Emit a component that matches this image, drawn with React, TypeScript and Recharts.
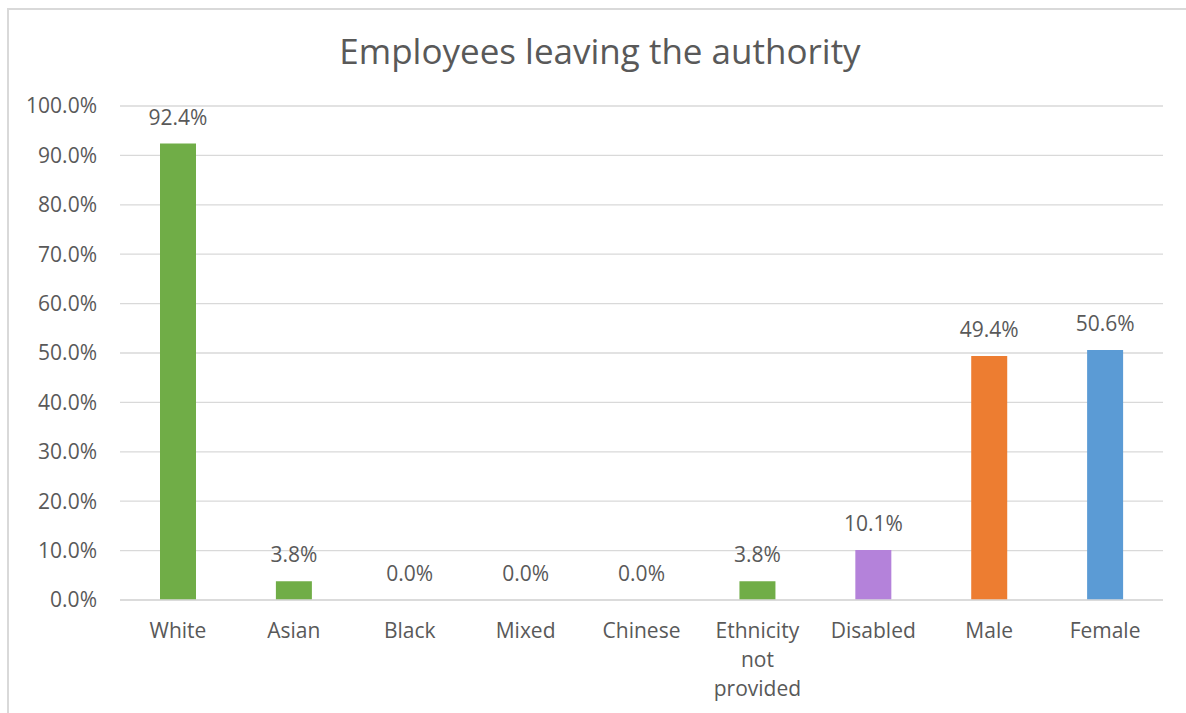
import { BarChart, Bar, XAxis, YAxis, CartesianGrid, LabelList, Cell } from 'recharts';

const categories = ['White', 'Asian', 'Black', 'Mixed', 'Chinese', 'Ethnicity not provided', 'Disabled', 'Male', 'Female'];
const leavingPct = [92.4, 3.8, 0.0, 0.0, 0.0, 3.8, 10.1, 49.4, 50.6];
const yTicks = [0, 10, 20, 30, 40, 50, 60, 70, 80, 90, 100];

const barColors = ['#70AD47', '#70AD47', '#70AD47', '#70AD47', '#70AD47', '#70AD47', '#B482DA', '#ED7D31', '#5B9BD5'];

const FONT = '"Open Sans", sans-serif';
const TEXT = '#595959';

const chartData = categories.map((name, i) => ({ name, value: leavingPct[i] }));

// wrap multi-word category names one word per line, like the original
function CategoryTick(props: any) {
    const { x, y, payload } = props;
    const words = String(payload.value).split(' ');
    return (
        <text x={x} y={y} textAnchor="middle" fill={TEXT} fontSize={21} fontFamily={FONT}>
            {words.map((w, i) => (
                <tspan key={i} x={x} dy={i === 0 ? '0.73em' : 29}>
                    {w}
                </tspan>
            ))}
        </text>
    );
}

// value label above each bar, zero bars included
function ValueLabel(props: any) {
    const { x, y, width, value } = props;
    return (
        <text x={Number(x) + Number(width) / 2} y={Number(y) - 19} textAnchor="middle" fill={TEXT} fontSize={21} fontFamily={FONT}>
            {`${Number(value).toFixed(1)}%`}
        </text>
    );
}

export default function App() {
    return (
        <div style={{ position: 'absolute', left: 0, top: 0, width: 1186, height: 713, overflow: 'hidden', background: '#fff' }}>
            <div
                style={{
                    position: 'absolute',
                    left: 7,
                    top: 8,
                    width: 1200,
                    height: 720,
                    borderLeft: '2px solid #D9D9D9',
                    borderTop: '2px solid #D9D9D9',
                }}
            />
            <div
                style={{
                    position: 'absolute',
                    left: 0,
                    top: 27,
                    width: 1200,
                    textAlign: 'center',
                    fontFamily: FONT,
                    fontSize: 35,
                    color: TEXT,
                }}
            >
                Employees leaving the authority
            </div>
            <div style={{ position: 'absolute', left: 0, top: 0 }}>
                <BarChart width={1186} height={713} data={chartData} margin={{ top: 106, right: 23, left: 10, bottom: 13 }}>
                    <CartesianGrid vertical={false} stroke="#D9D9D9" strokeWidth={1.3} />
                    <XAxis
                        dataKey="name"
                        interval={0}
                        height={100}
                        axisLine={{ stroke: '#D9D9D9', strokeWidth: 1.3 }}
                        tickLine={false}
                        tickSize={0}
                        tickMargin={23}
                        tick={<CategoryTick />}
                    />
                    <YAxis
                        width={110}
                        domain={[0, 100]}
                        ticks={yTicks}
                        interval={0}
                        axisLine={false}
                        tickLine={false}
                        tickSize={0}
                        tickMargin={23}
                        tickFormatter={(v: number) => `${v.toFixed(1)}%`}
                        tick={{ fill: TEXT, fontSize: 21, fontFamily: FONT }}
                    />
                    <Bar dataKey="value" barSize={36} minPointSize={0.01} isAnimationActive={false}>
                        {chartData.map((_, i) => (
                            <Cell key={i} fill={barColors[i]} />
                        ))}
                        <LabelList dataKey="value" content={<ValueLabel />} />
                    </Bar>
                </BarChart>
            </div>
        </div>
    );
}
